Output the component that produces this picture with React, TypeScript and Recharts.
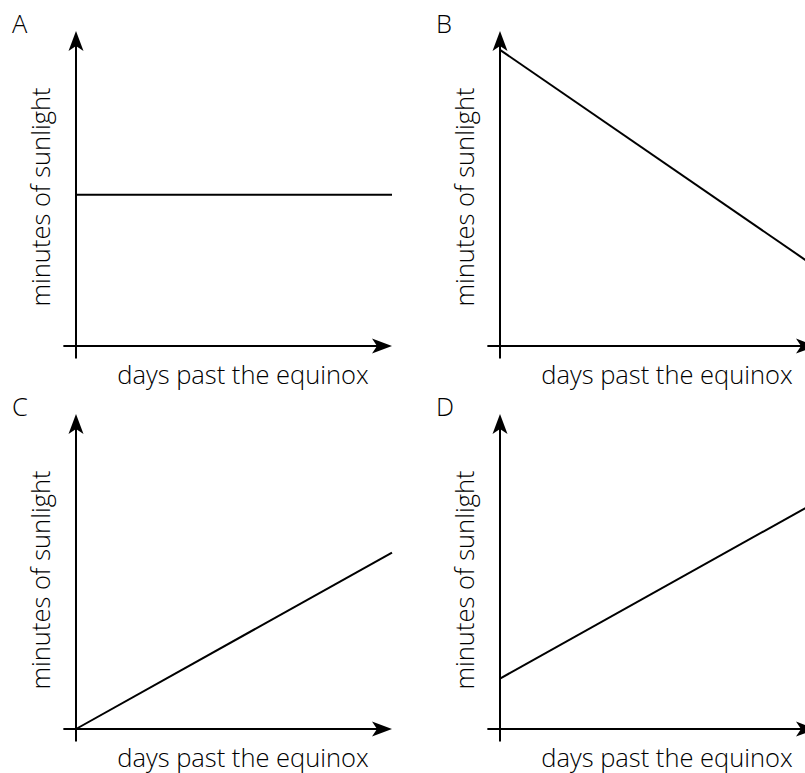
import React from 'react';
import {
  LineChart,
  Line,
  XAxis,
  YAxis,
  ReferenceLine,
  ReferenceDot,
  Customized,
} from 'recharts';

// four panels, values (0..100 on both axes)
const panelLetters = ['A', 'B', 'C', 'D'];
const daysPast = [0, 100];
const sunlightA = [48, 48];
const sunlightB = [94, 25];
const sunlightC = [0, 56];
const sunlightD = [16, 72];
const allSeries = [sunlightA, sunlightB, sunlightC, sunlightD];

const xLabel = 'days past the equinox';
const yLabel = 'minutes of sunlight';

const PANEL_W = 424;
const PANEL_H = 383;
const CHART_H = 396; // a bit taller than the step so the x label is not cut
const FONT = '"Open Sans", sans-serif';

const rightArrow = (props: any) => {
  const { cx, cy } = props;
  return (
    <path
      d={`M${cx},${cy} L${cx - 20},${cy - 7.5} L${cx - 15},${cy} L${cx - 20},${cy + 7.5} Z`}
      fill="#000"
    />
  );
};

const upArrow = (props: any) => {
  const { cx, cy } = props;
  return (
    <path
      d={`M${cx},${cy} L${cx - 7.5},${cy + 20} L${cx},${cy + 15} L${cx + 7.5},${cy + 20} Z`}
      fill="#000"
    />
  );
};

const Panel = ({ letter, values }: { letter: string; values: number[] }) => {
  const data = daysPast.map((d, i) => ({ x: d, y: values[i] }));

  return (
    <LineChart
      width={PANEL_W}
      height={CHART_H}
      data={data}
      margin={{ top: 31, right: 32, bottom: CHART_H - 346, left: 76 }}
    >
      <XAxis type="number" dataKey="x" domain={[0, 100]} hide />
      <YAxis type="number" domain={[0, 100]} hide />
      <ReferenceLine
        segment={[{ x: -4, y: 0 }, { x: 96, y: 0 }]}
        stroke="#000"
        strokeWidth={2}
        ifOverflow="visible"
      />
      <ReferenceLine
        segment={[{ x: 0, y: -4 }, { x: 0, y: 96 }]}
        stroke="#000"
        strokeWidth={2}
        ifOverflow="visible"
      />
      <ReferenceDot x={100} y={0} ifOverflow="visible" shape={rightArrow} />
      <ReferenceDot x={0} y={100} ifOverflow="visible" shape={upArrow} />
      <Line
        type="linear"
        dataKey="y"
        stroke="#000"
        strokeWidth={2}
        dot={false}
        activeDot={false}
        isAnimationActive={false}
      />
      <Customized
        component={
          <g fontFamily={FONT} fontSize={25.5} fontWeight={300} fill="#000">
            <text x={12} y={33}>{letter}</text>
            <text x={243} y={384} textAnchor="middle">{xLabel}</text>
            <text x={50} y={197} textAnchor="middle" transform="rotate(-90 50 197)">
              {yLabel}
            </text>
          </g>
        }
      />
    </LineChart>
  );
};

const App = () => {
  return (
    <div
      style={{
        position: 'absolute',
        left: 0,
        top: 0,
        width: 805,
        height: 773,
        overflow: 'hidden',
        background: '#fff',
      }}
    >
      {panelLetters.map((letter, i) => (
        <div
          key={letter}
          style={{
            position: 'absolute',
            left: (i % 2) * PANEL_W,
            top: Math.floor(i / 2) * PANEL_H,
          }}
        >
          <Panel letter={letter} values={allSeries[i]} />
        </div>
      ))}
    </div>
  );
};

export default App;
